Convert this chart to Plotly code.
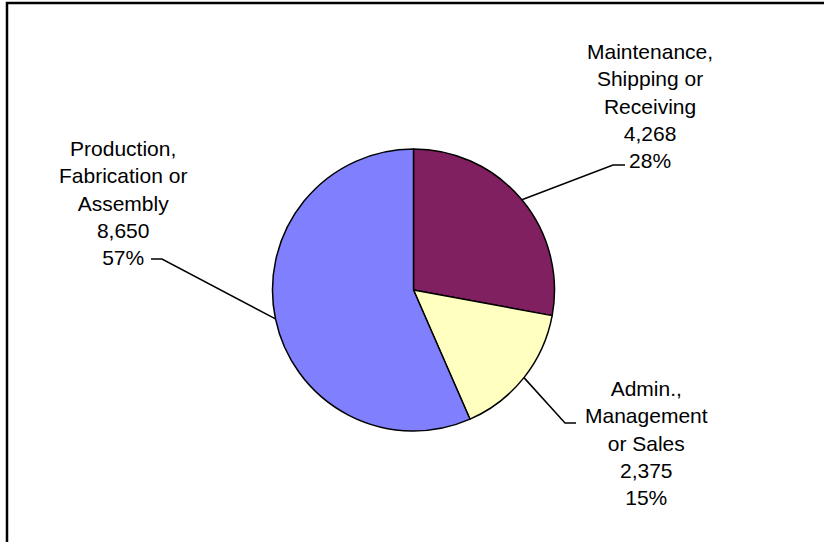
import math
import plotly.graph_objects as go

# Occupation groups, in drawing order (clockwise from 12 o'clock)
categories = ["Maintenance,<br>Shipping or<br>Receiving",
              "Admin.,<br>Management<br>or Sales",
              "Production,<br>Fabrication or<br>Assembly"]
employees = [4268, 2375, 8650]
pct_labels = ["28%", "15%", "57%"]
colors = ["#802060", "#FFFFC0", "#8080FF"]

W, H = 824, 542
CX, CY, R = 413.5, 290, 141  # pie centre and radius in pixels


def px(x):
    return x / W


def py(y):
    return 1 - y / H


fig = go.Figure(go.Pie(
    labels=[c.replace("<br>", " ") for c in categories],
    values=employees,
    sort=False,
    direction="clockwise",
    rotation=0,
    marker=dict(colors=colors, line=dict(color="black", width=1.5)),
    textinfo="none",
    hoverinfo="label+value+percent",
    showlegend=False,
    domain=dict(x=[px(CX - R), px(CX + R)], y=[py(CY + R), py(CY - R)]),
))

# label block centre, and leader elbow + end for each slice
label_pos = [(650, 106), (646, 443), (123.5, 203)]
elbows = [((613, 165), (625, 165)),
          ((565, 423), (576, 423)),
          ((162, 259), (151, 259))]

total = sum(employees)
cum = 0
shapes = []
annotations = []
for cat, val, pct, (lx, ly), (e1, e2) in zip(categories, employees, pct_labels,
                                             label_pos, elbows):
    mid = (cum + val / 2) / total
    cum += val
    a = 2 * math.pi * mid
    sx = CX + R * math.sin(a)
    sy = CY - R * math.cos(a)
    path = (f"M {px(sx)} {py(sy)} L {px(e1[0])} {py(e1[1])} "
            f"L {px(e2[0])} {py(e2[1])}")
    shapes.append(dict(type="path", xref="paper", yref="paper", path=path,
                       line=dict(color="black", width=1.5)))
    annotations.append(dict(
        x=px(lx), y=py(ly), xref="paper", yref="paper",
        xanchor="center", yanchor="middle", showarrow=False, align="center",
        text=f"{cat}<br>{val:,}<br>{pct}",
        font=dict(family="Liberation Sans, Arial, sans-serif", size=21,
                  color="black"),
    ))

# chart-area frame
shapes.append(dict(type="path", xref="paper", yref="paper",
                   path=f"M {px(7)} -0.02 L {px(7)} {py(3)} L 1.02 {py(3)}",
                   line=dict(color="black", width=2.5)))

fig.update_layout(
    width=W, height=H,
    margin=dict(l=0, r=0, t=0, b=0),
    paper_bgcolor="white", plot_bgcolor="white",
    shapes=shapes, annotations=annotations,
)

fig.write_html("out.html")
